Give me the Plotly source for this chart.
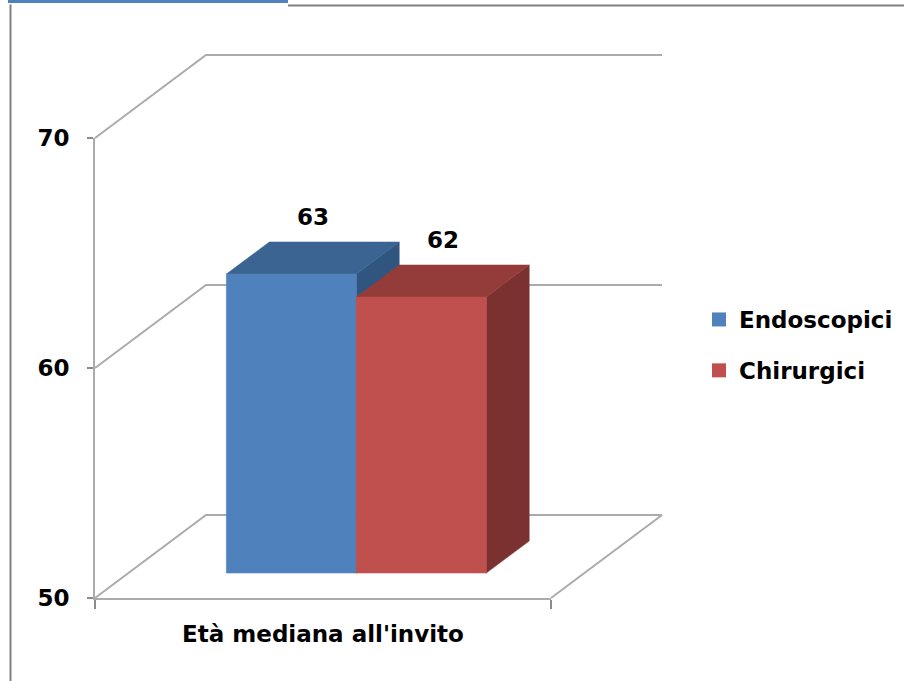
import plotly.graph_objects as go

# ---------------- data ----------------
categories = ["Età mediana all'invito"]
series_names = ["Endoscopici", "Chirurgici"]
series_values = [63, 62]
y_ticks = [50, 60, 70]

# ---------------- style / geometry ----------------
W, H = 904, 681
FONT = "DejaVu Sans"
FS = 23
front_colors = ["#4F81BD", "#C0504D"]
top_colors = ["#3C6492", "#943C3A"]
side_colors = ["#30557F", "#7A3130"]
GRID = "#ABABAB"

# pixel mapping of the front plane
PX_L, PX_R = 95, 551          # category slot (front plane)
PY_BASE, PX_PER_UNIT = 598, 23.0   # y pixel of 50, pixels per value unit
Y_MIN = y_ticks[0]
Y_MAX = y_ticks[-1]
DEPTH_PX_X, DEPTH_PX_Y = 111, 83   # oblique depth offset in px
DX = DEPTH_PX_X / (PX_R - PX_L)    # depth offset in x data units
DY = DEPTH_PX_Y / PX_PER_UNIT      # depth offset in value units
D_FRONT, D_BACK = 0.30, 0.687      # bar depth placement
GAP = 0.215                        # gap at each side of the category slot
LABEL_DEPTH = (D_FRONT + D_BACK) / 2

x_range = [-PX_L / (PX_R - PX_L), (W - PX_L) / (PX_R - PX_L)]
y_range = [Y_MIN - (H - PY_BASE) / PX_PER_UNIT, Y_MIN + PY_BASE / PX_PER_UNIT]


def proj(u, v, d):
    return u + d * DX, v + d * DY


fig = go.Figure()

# ---- walls / gridlines from tick values ----
for i, t in enumerate(y_ticks):
    pts = [proj(0, t, 0), proj(0, t, 1), proj(1, t, 1)]
    if i == 0:
        pts = [proj(1, t, 0), proj(1, t, 1)] + [None] + pts
    xs, ys = [], []
    for p in pts:
        if p is None:
            xs.append(None); ys.append(None)
        else:
            xs.append(p[0]); ys.append(p[1])
    fig.add_trace(go.Scatter(x=xs, y=ys, mode="lines",
                             line=dict(color=GRID, width=2),
                             showlegend=False, hoverinfo="skip"))

# ---- 3D bars ----
n = len(series_values)
bw = (1 - 2 * GAP) / n
for i, (name, v) in enumerate(zip(series_names, series_values)):
    x0 = GAP + i * bw
    x1 = x0 + bw
    faces = [
        ([proj(x1, Y_MIN, D_FRONT), proj(x1, Y_MIN, D_BACK), proj(x1, v, D_BACK), proj(x1, v, D_FRONT)], side_colors[i]),
        ([proj(x0, v, D_FRONT), proj(x1, v, D_FRONT), proj(x1, v, D_BACK), proj(x0, v, D_BACK)], top_colors[i]),
        ([proj(x0, Y_MIN, D_FRONT), proj(x1, Y_MIN, D_FRONT), proj(x1, v, D_FRONT), proj(x0, v, D_FRONT)], front_colors[i]),
    ]
    for pts, col in faces:
        xs = [p[0] for p in pts] + [pts[0][0]]
        ys = [p[1] for p in pts] + [pts[0][1]]
        fig.add_trace(go.Scatter(x=xs, y=ys, mode="lines", fill="toself",
                                 fillcolor=col, line=dict(color=col, width=0.5),
                                 showlegend=False, hoverinfo="skip"))
    lx, ly = proj((x0 + x1) / 2, v, LABEL_DEPTH)
    fig.add_annotation(x=lx, y=v + D_BACK * DY, text=str(v), showarrow=False,
                       xref="x", yref="y", yanchor="bottom", yshift=10,
                       font=dict(family=FONT, size=FS, color="black", weight="bold"))
    # legend entry
    fig.add_trace(go.Scatter(x=[None], y=[None], mode="markers", name=name,
                             legendgroup=name,
                             marker=dict(symbol="square", size=14, color=front_colors[i])))

# ---- visible axes (separate subplot) ----
fig.add_trace(go.Scatter(x=categories, y=[None], xaxis="x2", yaxis="y2",
                         mode="markers", showlegend=False, hoverinfo="skip"))

fig.update_layout(
    width=W, height=H,
    margin=dict(l=0, r=0, t=0, b=0, autoexpand=False),
    paper_bgcolor="white", plot_bgcolor="rgba(0,0,0,0)",
    xaxis=dict(range=x_range, visible=False, domain=[0, 1], fixedrange=True),
    yaxis=dict(range=y_range, visible=False, domain=[0, 1], fixedrange=True),
    xaxis2=dict(domain=[PX_L / W, PX_R / W], anchor="y2",
                type="category", range=[-0.5, 0.5], tickson="boundaries",
                ticks="outside", ticklen=9, tickcolor="#8C8C8C", tickwidth=2,
                showline=True, linecolor=GRID, linewidth=2, showgrid=False,
                ticklabelstandoff=14, automargin=False,
                tickfont=dict(family=FONT, size=FS, color="black", weight="bold")),
    yaxis2=dict(domain=[(H - PY_BASE) / H, (H - (PY_BASE - (Y_MAX - Y_MIN) * PX_PER_UNIT)) / H],
                anchor="x2", automargin=False,
                range=[Y_MIN, Y_MAX], tickvals=y_ticks, ticks="outside",
                ticklen=6, tickcolor="#8C8C8C", tickwidth=2,
                showline=True, linecolor=GRID, linewidth=2, showgrid=False,
                zeroline=False, ticklabelstandoff=13,
                tickfont=dict(family=FONT, size=FS, color="black", weight="bold")),
    legend=dict(x=699 / W, xanchor="left", y=1 - 345 / H, yanchor="middle",
                bgcolor="rgba(0,0,0,0)", tracegroupgap=18, traceorder="grouped",
                itemwidth=30,
                font=dict(family=FONT, size=FS, color="black", weight="bold")),
    showlegend=True,
    shapes=[
        dict(type="rect", xref="paper", yref="paper", x0=8 / W, x1=288 / W,
             y0=1 - 3 / H, y1=1, fillcolor="#4F81BD", line=dict(width=0)),
        dict(type="line", xref="paper", yref="paper", x0=288 / W, x1=1,
             y0=1 - 5.5 / H, y1=1 - 5.5 / H, line=dict(color="#808080", width=2)),
        dict(type="line", xref="paper", yref="paper", x0=10.5 / W, x1=10.5 / W,
             y0=0, y1=1 - 4.5 / H, line=dict(color="#808080", width=2)),
    ],
)

fig.write_html("out.html")
